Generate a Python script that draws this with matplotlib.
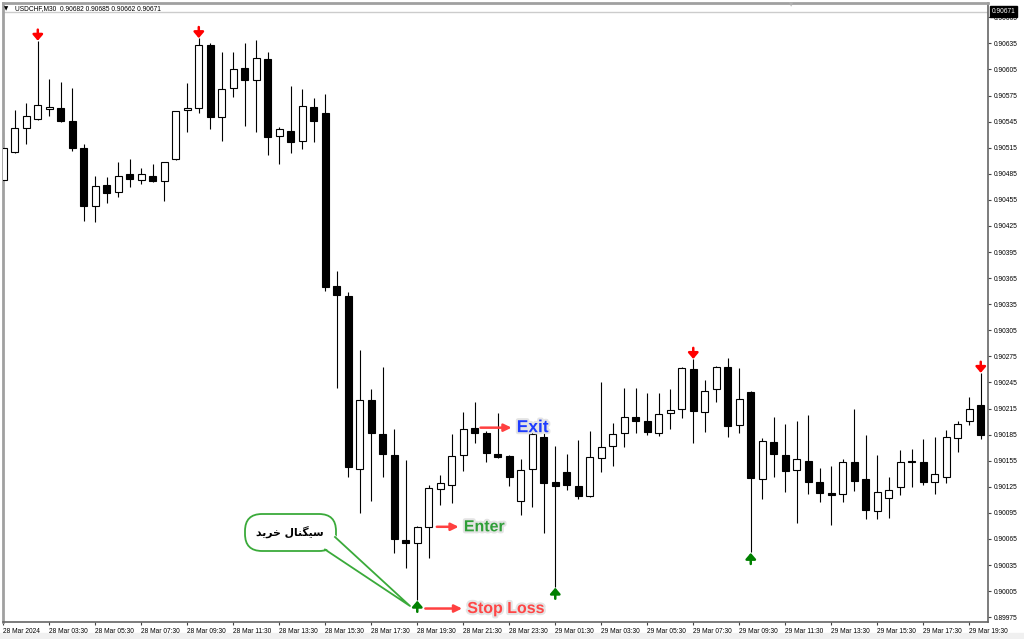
import matplotlib.pyplot as plt
import matplotlib.patheffects as pe
from matplotlib.patches import FancyBboxPatch, Polygon, Rectangle
from matplotlib.lines import Line2D
from matplotlib.transforms import Affine2D
import numpy as np

# USDCHF M30 candles, 28 Mar 01:30 -> 29 Mar 20:00
open_ = [0.90478, 0.90510, 0.90538, 0.90548, 0.90560, 0.90561, 0.90546, 0.90515, 0.90448, 0.90472,
         0.90464, 0.90485, 0.90478, 0.90482, 0.90477, 0.90502, 0.90558, 0.90561, 0.90633, 0.90550,
         0.90584, 0.90607, 0.90593, 0.90617, 0.90528, 0.90534, 0.90523, 0.90562, 0.90555, 0.90356,
         0.90344, 0.90145, 0.90225, 0.90186, 0.90162, 0.90064, 0.90060, 0.90079, 0.90122, 0.90127,
         0.90162, 0.90193, 0.90187, 0.90163, 0.90160, 0.90109, 0.90145, 0.90182, 0.90130, 0.90142,
         0.90126, 0.90114, 0.90158, 0.90172, 0.90187, 0.90205, 0.90201, 0.90187, 0.90210, 0.90214,
         0.90260, 0.90211, 0.90237, 0.90263, 0.90196, 0.90234, 0.90134, 0.90176, 0.90162, 0.90144,
         0.90155, 0.90130, 0.90118, 0.90117, 0.90153, 0.90134, 0.90097, 0.90112, 0.90125, 0.90155,
         0.90153, 0.90130, 0.90136, 0.90181, 0.90201, 0.90219]
high = [0.90533, 0.90558, 0.90566, 0.90638, 0.90594, 0.90590, 0.90584, 0.90519, 0.90482, 0.90481,
        0.90498, 0.90502, 0.90492, 0.90496, 0.90498, 0.90557, 0.90589, 0.90641, 0.90635, 0.90625,
        0.90625, 0.90635, 0.90639, 0.90625, 0.90539, 0.90586, 0.90582, 0.90572, 0.90577, 0.90373,
        0.90349, 0.90282, 0.90237, 0.90263, 0.90191, 0.90156, 0.90080, 0.90127, 0.90139, 0.90186,
        0.90211, 0.90222, 0.90189, 0.90210, 0.90161, 0.90157, 0.90196, 0.90190, 0.90172, 0.90163,
        0.90179, 0.90189, 0.90245, 0.90198, 0.90239, 0.90239, 0.90233, 0.90233, 0.90237, 0.90263,
        0.90272, 0.90248, 0.90264, 0.90273, 0.90262, 0.90235, 0.90181, 0.90205, 0.90197, 0.90201,
        0.90208, 0.90147, 0.90149, 0.90157, 0.90214, 0.90185, 0.90162, 0.90136, 0.90167, 0.90168,
        0.90180, 0.90182, 0.90190, 0.90201, 0.90228, 0.90256]
low = [0.90475, 0.90509, 0.90519, 0.90547, 0.90551, 0.90545, 0.90511, 0.90431, 0.90429, 0.90451,
       0.90458, 0.90470, 0.90473, 0.90475, 0.90454, 0.90501, 0.90533, 0.90555, 0.90536, 0.90523,
       0.90573, 0.90540, 0.90533, 0.90507, 0.90496, 0.90509, 0.90513, 0.90521, 0.90350, 0.90239,
       0.90136, 0.90095, 0.90109, 0.90136, 0.90049, 0.90032, 0.89995, 0.90043, 0.90104, 0.90106,
       0.90143, 0.90175, 0.90153, 0.90158, 0.90126, 0.90093, 0.90102, 0.90072, 0.90010, 0.90121,
       0.90111, 0.90113, 0.90142, 0.90149, 0.90171, 0.90187, 0.90185, 0.90183, 0.90191, 0.90204,
       0.90175, 0.90188, 0.90222, 0.90182, 0.90187, 0.90050, 0.90111, 0.90136, 0.90119, 0.90083,
       0.90117, 0.90107, 0.90081, 0.90107, 0.90120, 0.90088, 0.90088, 0.90089, 0.90116, 0.90125,
       0.90127, 0.90117, 0.90129, 0.90165, 0.90196, 0.90180]
close = [0.90515, 0.90538, 0.90551, 0.90564, 0.90562, 0.90546, 0.90515, 0.90448, 0.90471, 0.90463,
         0.90482, 0.90479, 0.90485, 0.90477, 0.90498, 0.90557, 0.90561, 0.90633, 0.90550, 0.90582,
         0.90605, 0.90593, 0.90618, 0.90527, 0.90536, 0.90521, 0.90563, 0.90546, 0.90355, 0.90346,
         0.90148, 0.90225, 0.90187, 0.90163, 0.90065, 0.90060, 0.90079, 0.90124, 0.90129, 0.90160,
         0.90191, 0.90187, 0.90164, 0.90159, 0.90136, 0.90144, 0.90186, 0.90129, 0.90126, 0.90127,
         0.90114, 0.90159, 0.90171, 0.90186, 0.90205, 0.90201, 0.90188, 0.90209, 0.90213, 0.90262,
         0.90212, 0.90235, 0.90263, 0.90195, 0.90226, 0.90135, 0.90178, 0.90163, 0.90143, 0.90157,
         0.90130, 0.90118, 0.90116, 0.90153, 0.90132, 0.90098, 0.90119, 0.90121, 0.90153, 0.90153,
         0.90130, 0.90140, 0.90182, 0.90197, 0.90214, 0.90185]

time_labels = ['28 Mar 2024', '28 Mar 03:30', '28 Mar 05:30', '28 Mar 07:30', '28 Mar 09:30',
               '28 Mar 11:30', '28 Mar 13:30', '28 Mar 15:30', '28 Mar 17:30', '28 Mar 19:30',
               '28 Mar 21:30', '28 Mar 23:30', '29 Mar 01:30', '29 Mar 03:30', '29 Mar 05:30',
               '29 Mar 07:30', '29 Mar 09:30', '29 Mar 11:30', '29 Mar 13:30', '29 Mar 15:30',
               '29 Mar 17:30', '29 Mar 19:30']
price_ticks = [0.90665, 0.90635, 0.90605, 0.90575, 0.90545, 0.90515, 0.90485, 0.90455,
               0.90425, 0.90395, 0.90365, 0.90335, 0.90305, 0.90275, 0.90245, 0.90215,
               0.90185, 0.90155, 0.90125, 0.90095, 0.90065, 0.90035, 0.90005, 0.89975]
sell_bars = [3, 17, 60, 85]
buy_bars = [36, 48, 65]
bid = 0.90671
header = 'USDCHF,M30  0.90682 0.90685 0.90662 0.90671'

# levels for the trade notes
exit_price = 0.90193
enter_price = 0.90079
stop_price = 0.89985

o = np.array(open_)
h = np.array(high)
l = np.array(low)
c = np.array(close)
x = np.arange(len(o))
up = c >= o

fig = plt.figure(figsize=(10.24, 6.39), dpi=100)
fig.patch.set_facecolor('white')
ax = fig.add_axes([3 / 1024, 17 / 639, 985 / 1024, 619 / 639])
ax.set_xlim(-0.026, 85.63)
ax.set_ylim(0.899695, 0.906814)

ax.axhline(bid, color='#cccccc', lw=1, zorder=1)

ax.vlines(x, l, h, color='black', lw=0.8, zorder=2)
ax.bar(x, np.maximum(np.abs(c - o), 0.000005), bottom=np.minimum(o, c), width=0.62,
       color=np.where(up, 'white', 'black'), edgecolor='black', linewidth=0.8, zorder=3)

for i in sell_bars:
    ax.annotate('', xy=(x[i], h[i]), xytext=(0, 8), textcoords='offset points',
                arrowprops=dict(arrowstyle='-|>,head_width=0.3,head_length=0.35',
                                color='red', lw=1.8, shrinkA=0, shrinkB=0), zorder=4)
for i in buy_bars:
    ax.annotate('', xy=(x[i], l[i] - 0.00001), xytext=(0, -8), textcoords='offset points',
                arrowprops=dict(arrowstyle='-|>,head_width=0.3,head_length=0.35',
                                color='#008000', lw=1.8, shrinkA=0, shrinkB=0), zorder=4)

halo = [pe.withStroke(linewidth=3, foreground='#e4e4e4')]
notes = [(41.5, 44.2, exit_price, 'Exit', '#1e3cff', 12.5),
         (37.7, 39.6, enter_price, 'Enter', '#2f9e38', 11.5),
         (36.7, 39.9, stop_price, 'Stop Loss', '#ff4646', 11.5)]
for x0, x1, y, txt, col, fs in notes:
    ax.annotate('', xy=(x1, y), xytext=(x0, y),
                arrowprops=dict(arrowstyle='-|>,head_width=0.22,head_length=0.45',
                                color='#ff4040', lw=1.8, shrinkA=0, shrinkB=0), zorder=5)
    ax.text(x1 + 0.45, y, txt, color=col, fontsize=fs, fontweight='bold', ha='left',
            va='center', family=['Liberation Sans', 'DejaVu Sans'], path_effects=halo, zorder=6)

ax.set_xticks(x[::4])
ax.set_xticklabels(time_labels, ha='left', fontsize=4.8, family='Liberation Sans')
ax.tick_params(axis='x', length=2.5, pad=1.5, width=0.8, color='#444444')
ax.yaxis.tick_right()
ax.set_yticks(price_ticks)
ax.set_yticklabels(['%.5f' % p for p in price_ticks], fontsize=4.8, family='Liberation Sans')
ax.tick_params(axis='y', length=2.5, pad=2, width=0.8, color='#444444')
for s in ['right', 'bottom']:
    ax.spines[s].set_color('#666666')
    ax.spines[s].set_linewidth(1.2)
for s in ['left', 'top']:
    ax.spines[s].set_color('#a0a0a0')
    ax.spines[s].set_linewidth(2)

# pixel coordinates of the picture, origin top-left
pxt = Affine2D().scale(1 / 100, -1 / 100).translate(0, 6.39) + fig.dpi_scale_trans

fig.add_artist(Rectangle((0, 633), 1024, 6, transform=pxt, color='#f0f0f0', zorder=0))
fig.text(4, 8.5, '\u25bc', transform=pxt, fontsize=4, va='center', ha='left')
fig.text(15, 8.5, header, transform=pxt, fontsize=4.8, va='center', ha='left',
         family='Liberation Sans')
fig.text(791, 5, '\u25bc', transform=pxt, fontsize=4, va='center', ha='center', color='#b0b0b0')
fig.text(992, 11.5, '%.5f' % bid, transform=pxt, fontsize=4.8, va='center', ha='left',
         color='white', family='Liberation Sans', zorder=10,
         bbox=dict(boxstyle='square,pad=0.25', fc='black', ec='black'))

# speech bubble "buy signal"
bubble = FancyBboxPatch((245, 514), 91, 37, boxstyle='round,pad=0,rounding_size=17',
                        transform=pxt, fc='white', ec='#3aaa3a', lw=1.3, zorder=5)
fig.add_artist(bubble)
fig.add_artist(Polygon([(322, 546), (410, 606), (333, 533)], closed=True, transform=pxt,
                       fc='white', ec='none', zorder=5.1))
fig.add_artist(Line2D([325, 410, 335], [549.5, 606, 537], transform=pxt, color='#3aaa3a',
                      lw=1.3, zorder=5.2))
fig.text(290, 532, '\uFEAA\uFBFE\uFEAE\uFEA7 \uFEDD\uFE8E\uFEE8\uFB95\uFBFF\uFEB3',
         transform=pxt, fontsize=7.8, fontweight='bold', ha='center', va='center',
         family='DejaVu Sans', zorder=6)

fig.savefig('out.png', dpi=100)
